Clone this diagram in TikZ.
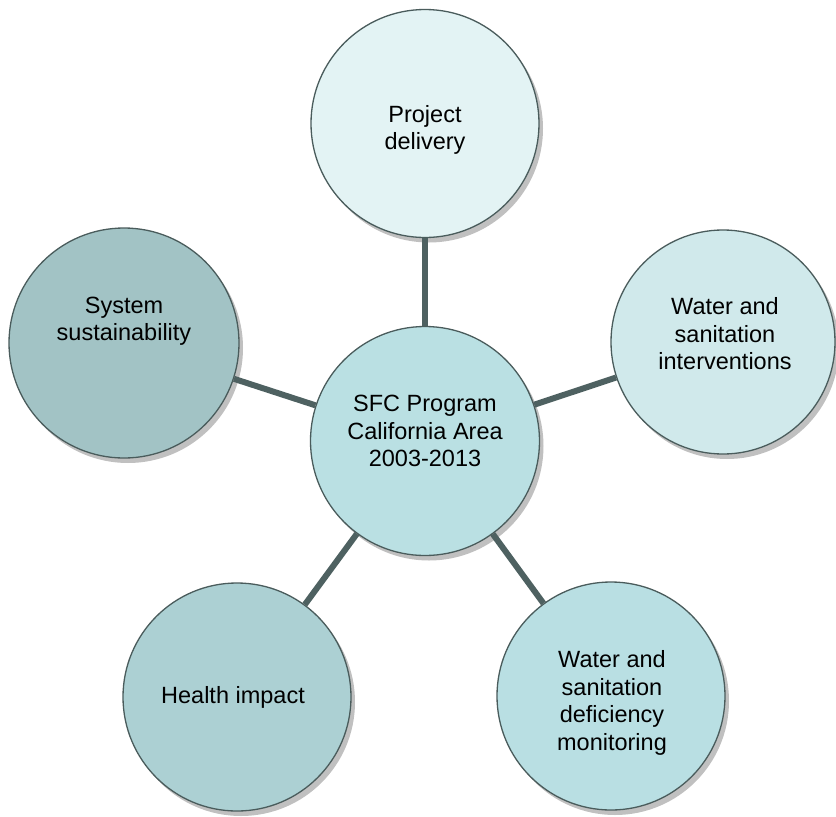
\documentclass[tikz,border=0pt]{standalone}
\usepackage{fontspec}
\setmainfont{Liberation Sans}
\usetikzlibrary{shadows}

\definecolor{edgegray}{HTML}{4A5C5C}
\definecolor{linkgray}{HTML}{4E6161}
\definecolor{shadowgray}{HTML}{C0C0C0}
\definecolor{fillTop}{HTML}{E3F3F4}
\definecolor{fillRight}{HTML}{D0E9EB}
\definecolor{fillHub}{HTML}{BAE0E3}
\definecolor{fillLowRight}{HTML}{B9DFE3}
\definecolor{fillLowLeft}{HTML}{ACD0D3}
\definecolor{fillLeft}{HTML}{A2C3C5}

\begin{document}
\begin{tikzpicture}[x=1pt,y=-1pt,
  bubble/.style={circle, draw=edgegray, line width=1.3pt, inner sep=0pt,
    minimum size=#1,
    drop shadow={shadow xshift=4pt, shadow yshift=-5pt, fill=shadowgray, opacity=1}},
  bubbletext/.style={font=\fontsize{23.5}{27.5}\selectfont, align=center, inner sep=0pt},
  link/.style={draw=linkgray, line width=6pt}]

  % canvas
  \fill[white] (0,0) rectangle (836,817);
  \useasboundingbox (0,0) rectangle (836,817);

  % circles with their captions
  \node[bubble=228pt, fill=fillTop] (top) at (425,123.5)
    {}; \node[bubbletext] (topT) at (425,130) {Project\\delivery};
  \node[bubble=224pt, fill=fillRight] (right) at (723,342)
    {}; \node[bubbletext] (rightT) at (725,334) {Water and\\sanitation\\interventions};
  \node[bubble=230pt, fill=fillLeft] (left) at (124,343)
    {}; \node[bubbletext] (leftT) at (124,321) {System\\sustainability};
  \node[bubble=228pt, fill=fillLowRight] (lowright) at (611,696)
    {}; \node[bubbletext] (lowrightT) at (612,703) {Water and\\sanitation\\deficiency\\monitoring};
  \node[bubble=228pt, fill=fillLowLeft] (lowleft) at (237,697)
    {}; \node[bubbletext] (lowleftT) at (233,697) {Health impact};
  \node[bubble=229pt, fill=fillHub] (hub) at (425,441)
    {}; \node[bubbletext] (hubT) at (425,431) {SFC Program\\California Area\\2003-2013};

  % spokes from the hub
  \draw[link] (hub) -- (top);
  \draw[link] (hub) -- (right);
  \draw[link] (hub) -- (lowright);
  \draw[link] (hub) -- (lowleft);
  \draw[link] (hub) -- (left);
\end{tikzpicture}
\end{document}
